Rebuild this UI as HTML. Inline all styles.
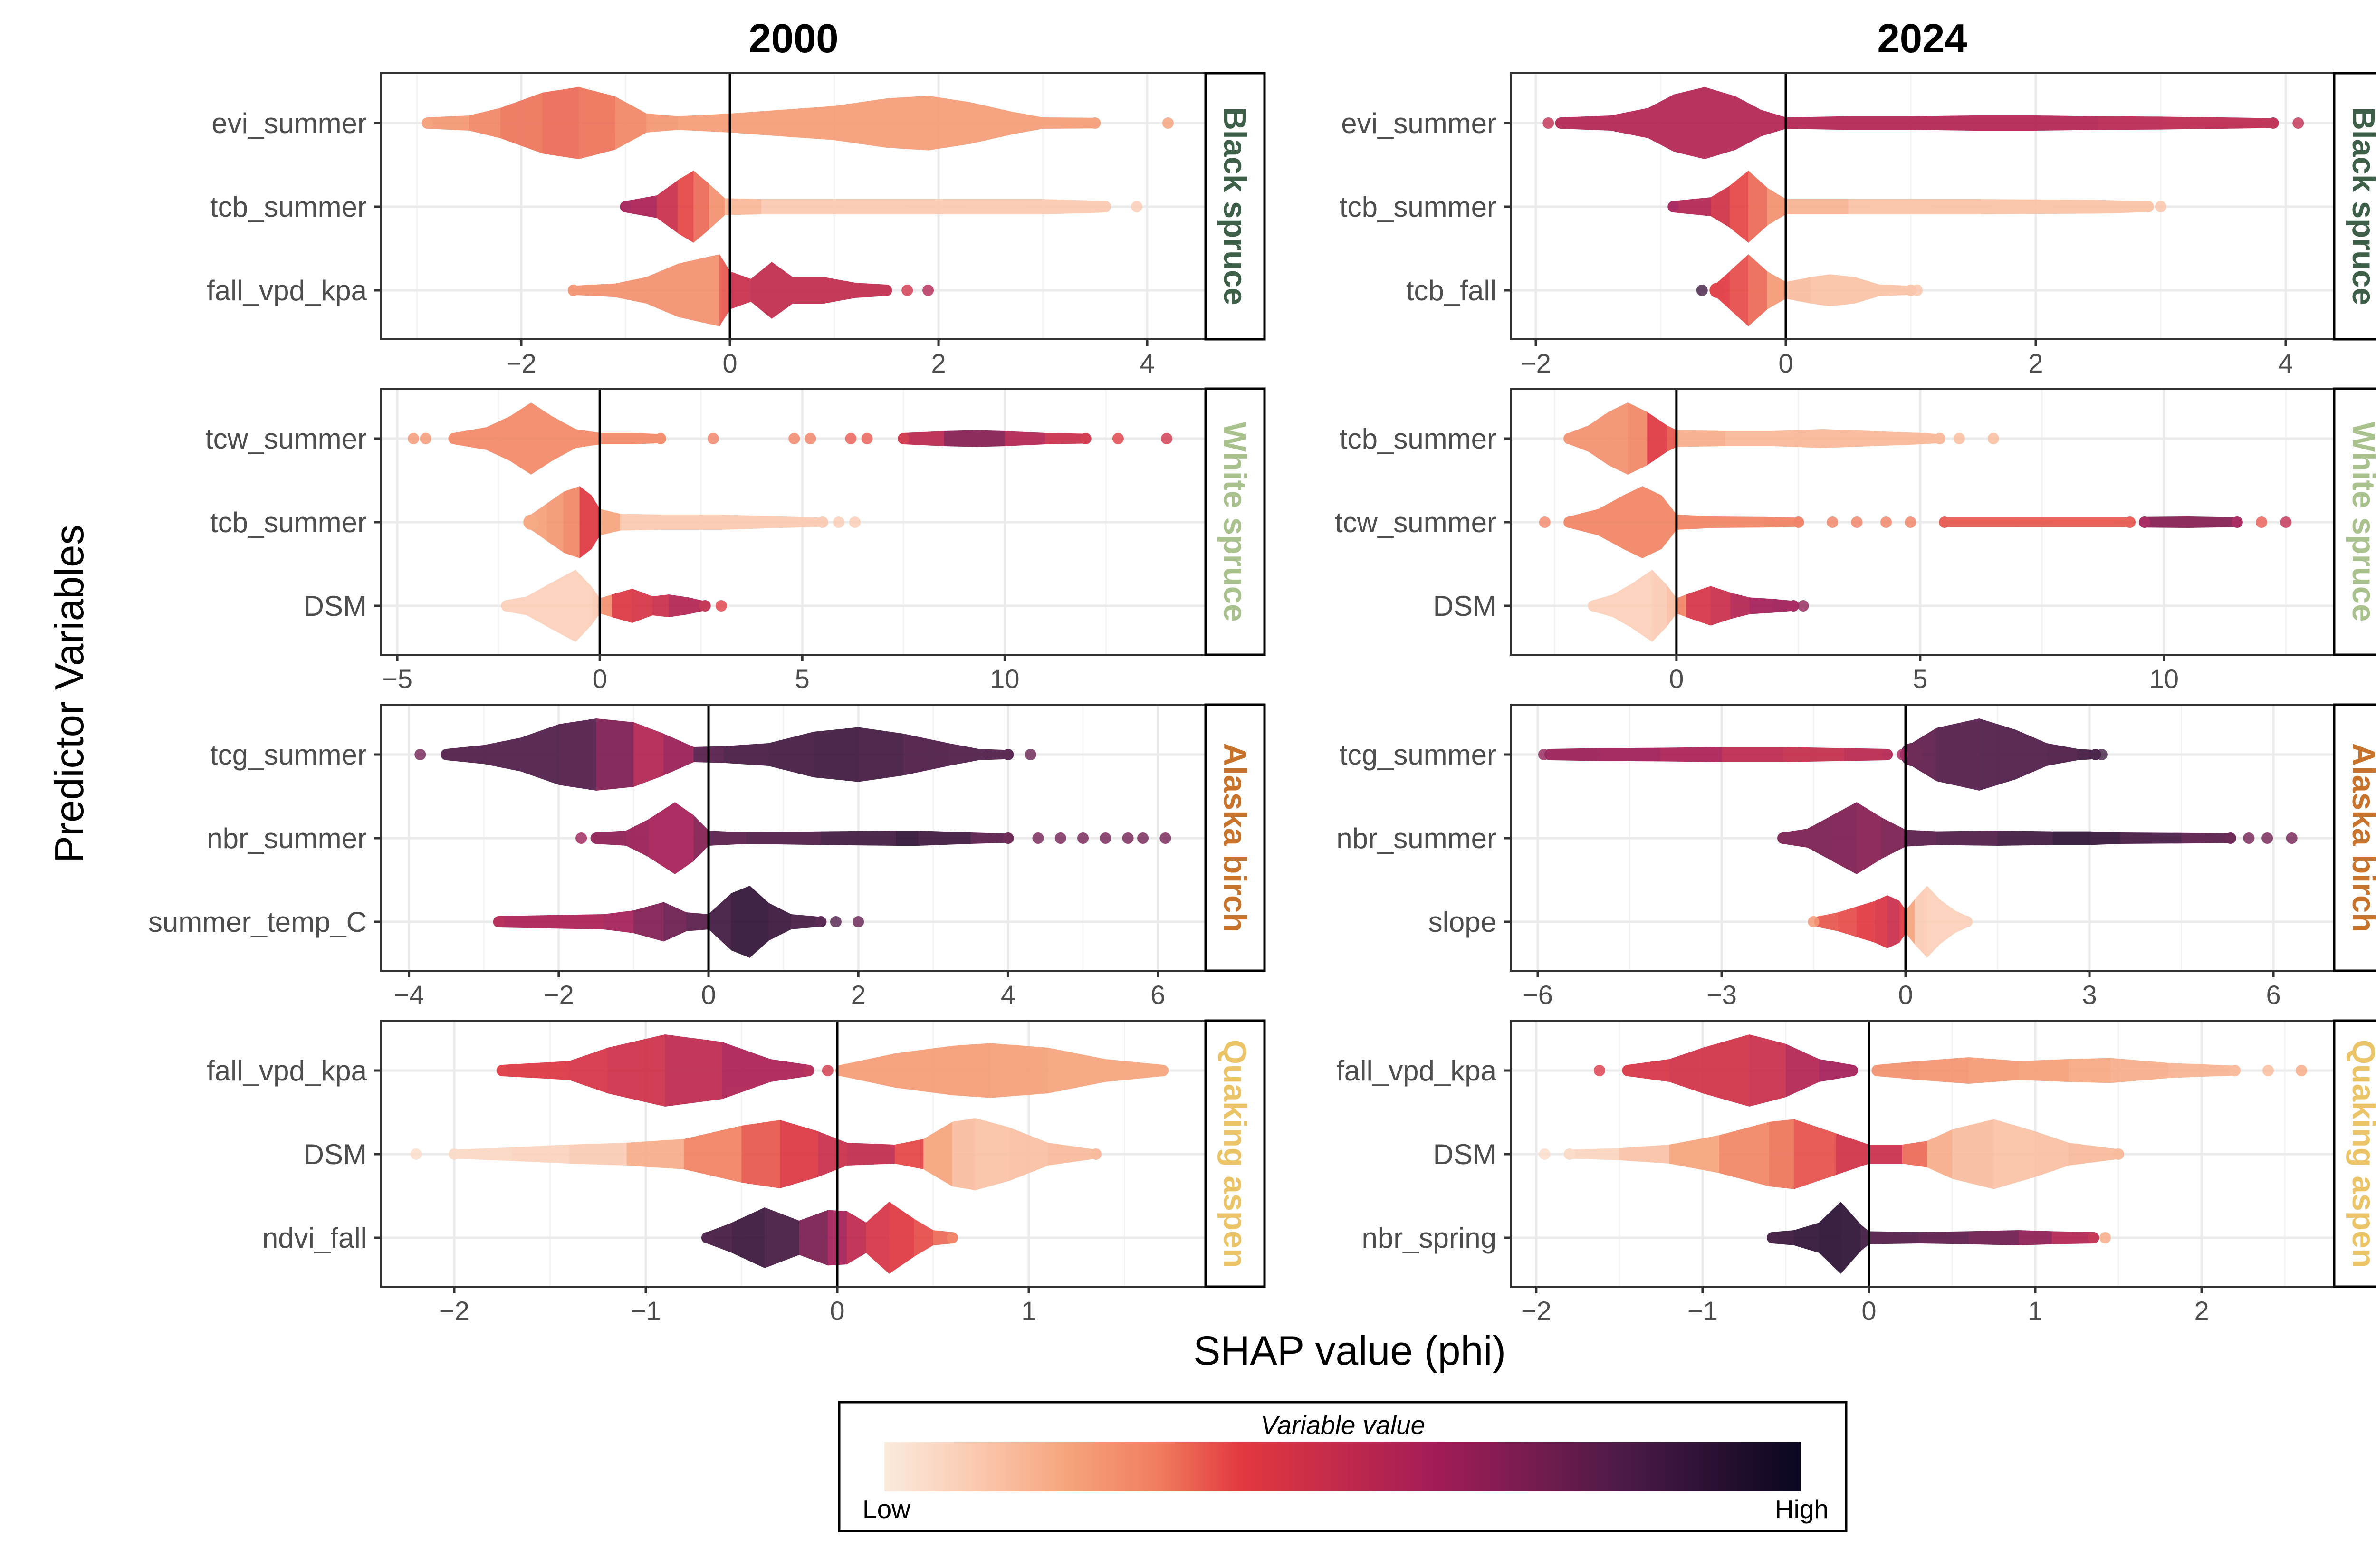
<!DOCTYPE html>
<html><head><meta charset="utf-8"><style>
html,body{margin:0;padding:0;background:#fff;}
svg{display:block;font-family:"Liberation Sans",Arial,sans-serif;}
</style></head><body>
<svg id="chart" xmlns="http://www.w3.org/2000/svg" width="5100" height="3300" viewBox="0 0 5100 3300">
<defs>
<linearGradient id="rocket" x1="0" x2="1" y1="0" y2="0">
<stop offset="0" stop-color="#faebdd"/><stop offset="0.1" stop-color="#fbc9b0"/><stop offset="0.2" stop-color="#f6a47c"/><stop offset="0.3" stop-color="#f07c5e"/><stop offset="0.39" stop-color="#e2383f"/><stop offset="0.6" stop-color="#a31c57"/><stop offset="0.8" stop-color="#4e1b48"/><stop offset="1" stop-color="#090620"/>
</linearGradient>
</defs>
<g id="panels"></g>
<text x="1670" y="110" font-size="85" font-weight="bold" text-anchor="middle">2000</text>
<text x="4045" y="110" font-size="85" font-weight="bold" text-anchor="middle">2024</text>
<text transform="translate(175,1460) rotate(-90)" font-size="85" text-anchor="middle">Predictor Variables</text>
<text x="2840" y="2872" font-size="86" text-anchor="middle">SHAP value (phi)</text>
<g>
<rect x="1766" y="2951" width="2119" height="271" fill="#fff" stroke="#000" stroke-width="5"/>
<text x="2826" y="3018" font-size="55" font-style="italic" text-anchor="middle">Variable value</text>
<rect x="1861" y="3035" width="1929" height="103" fill="url(#rocket)"/>
<text x="1815" y="3195" font-size="55">Low</text>
<text x="3848" y="3195" font-size="55" text-anchor="end">High</text>
</g>
</svg>
<script>
// ---- data: per-row density knots (SHAP x), relative half-height, colour value (0 low - 1 high)
const bs00r1X=[-2.9,-2.5,-2.2,-1.8,-1.45,-1.1,-0.8,-0.5,0,0.5,1.0,1.5,1.9,2.3,2.7,3.0,3.5];
const bs00r1H=[0.15,0.2,0.4,0.8,0.95,0.7,0.25,0.18,0.25,0.35,0.45,0.65,0.72,0.55,0.3,0.15,0.14];
const bs00r1C=[0.22,0.25,0.3,0.32,0.33,0.3,0.25,0.22,0.22,0.22,0.22,0.22,0.22,0.22,0.22,0.22,0.22];
const bs00r1DX=[4.2];const bs00r1DC=[0.22];
const bs00r2X=[-1.0,-0.7,-0.5,-0.35,-0.2,-0.05,0.3,1,2,3,3.6];
const bs00r2H=[0.15,0.3,0.7,0.95,0.6,0.22,0.2,0.2,0.2,0.2,0.15];
const bs00r2C=[0.6,0.55,0.4,0.35,0.3,0.2,0.1,0.1,0.1,0.1,0.1];
const bs00r2DX=[3.9];const bs00r2DC=[0.1];
const bs00r3X=[-1.5,-1.1,-0.8,-0.5,-0.1,0,0.2,0.4,0.6,0.9,1.2,1.5];
const bs00r3H=[0.12,0.18,0.35,0.7,0.95,0.5,0.3,0.75,0.35,0.35,0.2,0.15];
const bs00r3C=[0.25,0.25,0.25,0.25,0.25,0.45,0.5,0.5,0.5,0.5,0.5,0.5];
const bs00r3DX=[1.7,1.9];const bs00r3DC=[0.45,0.55];

const ws00r1X=[-3.6,-2.8,-2.2,-1.7,-1.2,-0.6,0,0.8,1.5,1.6,7.4,7.5,8.5,9.3,10,11,12];
const ws00r1H=[0.15,0.3,0.6,0.95,0.6,0.25,0.15,0.15,0.12,0,0,0.15,0.2,0.22,0.2,0.15,0.13];
const ws00r1C=[0.27,0.27,0.27,0.27,0.27,0.27,0.27,0.27,0.27,0.3,0.4,0.45,0.6,0.75,0.6,0.5,0.45];
const ws00r1DX=[-4.6,-4.3,2.8,4.8,5.2,6.2,6.6,12.8,14.0];const ws00r1DC=[0.25,0.25,0.3,0.3,0.3,0.35,0.35,0.4,0.45];
const ws00r2X=[-1.7,-1.3,-0.9,-0.5,-0.2,0,0.5,1.5,3,4.5,5.5];
const ws00r2H=[0.2,0.5,0.8,0.95,0.7,0.35,0.22,0.2,0.2,0.15,0.12];
const ws00r2C=[0.2,0.22,0.25,0.3,0.5,0.3,0.1,0.1,0.1,0.1,0.1];
const ws00r2DX=[5.9,6.3];const ws00r2DC=[0.1,0.1];
const ws00r3X=[-2.3,-1.8,-1.3,-0.6,-0.2,0,0.3,0.8,1.3,1.7,2.2,2.6];
const ws00r3H=[0.15,0.25,0.55,0.95,0.5,0.2,0.3,0.45,0.25,0.3,0.22,0.12];
const ws00r3C=[0.08,0.08,0.08,0.08,0.08,0.1,0.4,0.42,0.45,0.5,0.6,0.5];
const ws00r3DX=[3.0];const ws00r3DC=[0.4];

const ab00r1X=[-3.5,-3.0,-2.5,-2,-1.5,-1.0,-0.6,-0.2,0.2,0.8,1.4,2,2.6,3.2,3.6,4.0];
const ab00r1H=[0.15,0.25,0.45,0.8,0.95,0.85,0.55,0.2,0.22,0.3,0.6,0.72,0.55,0.3,0.15,0.12];
const ab00r1C=[0.8,0.8,0.8,0.8,0.78,0.6,0.5,0.75,0.82,0.82,0.85,0.85,0.82,0.8,0.8,0.8];
const ab00r1DX=[-3.85,4.3];const ab00r1DC=[0.72,0.75];
const ab00r2X=[-1.5,-1.1,-0.8,-0.45,-0.2,0,0.5,1.5,2.5,2.8,3.5,4.0];
const ab00r2H=[0.15,0.2,0.5,0.95,0.6,0.2,0.15,0.18,0.2,0.2,0.15,0.12];
const ab00r2C=[0.65,0.65,0.6,0.58,0.6,0.75,0.8,0.8,0.88,0.9,0.8,0.75];
const ab00r2DX=[-1.7,4.4,4.7,5.0,5.3,5.6,5.8,6.1];const ab00r2DC=[0.62,0.72,0.72,0.72,0.72,0.72,0.72,0.72];
const ab00r3X=[-2.8,-2.0,-1.4,-1.0,-0.6,-0.3,0,0.3,0.55,0.8,1.1,1.5];
const ab00r3H=[0.15,0.18,0.2,0.3,0.52,0.25,0.2,0.75,0.95,0.5,0.2,0.13];
const ab00r3C=[0.55,0.6,0.55,0.65,0.72,0.75,0.8,0.88,0.9,0.88,0.85,0.8];
const ab00r3DX=[1.7,2.0];const ab00r3DC=[0.8,0.75];

const qa00r1X=[-1.75,-1.4,-1.2,-0.9,-0.6,-0.35,-0.15,0.0,0.02,0.3,0.6,0.8,1.1,1.4,1.7];
const qa00r1H=[0.15,0.25,0.6,0.95,0.75,0.3,0.15,0,0.15,0.45,0.65,0.72,0.6,0.3,0.15];
const qa00r1C=[0.4,0.42,0.45,0.47,0.55,0.6,0.55,0.3,0.22,0.22,0.22,0.22,0.2,0.2,0.2];
const qa00r1DX=[-0.05];const qa00r1DC=[0.45];
const qa00r2X=[-2.0,-1.7,-1.4,-1.1,-0.8,-0.5,-0.3,-0.1,0.05,0.3,0.45,0.6,0.72,0.9,1.1,1.35];
const qa00r2H=[0.12,0.18,0.25,0.3,0.4,0.75,0.9,0.6,0.3,0.25,0.4,0.85,0.95,0.7,0.3,0.12];
const qa00r2C=[0.05,0.06,0.08,0.1,0.25,0.32,0.38,0.45,0.5,0.5,0.25,0.15,0.12,0.12,0.13,0.15];
const qa00r2DX=[-2.2];const qa00r2DC=[0.05];
const qa00r3X=[-0.68,-0.55,-0.38,-0.2,-0.05,0.05,0.15,0.27,0.4,0.5,0.6];
const qa00r3H=[0.15,0.4,0.8,0.45,0.73,0.7,0.4,0.95,0.5,0.2,0.15];
const qa00r3C=[0.82,0.85,0.88,0.78,0.62,0.58,0.45,0.42,0.38,0.35,0.3];
const qa00r3DX=[];const qa00r3DC=[];

const bs24r1X=[-1.8,-1.4,-1.1,-0.9,-0.65,-0.4,-0.2,0,0.5,1,1.5,2,2.5,3,3.5,3.9];
const bs24r1H=[0.15,0.2,0.4,0.75,0.95,0.7,0.35,0.15,0.18,0.18,0.2,0.2,0.18,0.17,0.15,0.13];
const bs24r1C=[0.55,0.55,0.55,0.55,0.55,0.55,0.55,0.55,0.55,0.55,0.55,0.55,0.55,0.52,0.52,0.52];
const bs24r1DX=[-1.9,4.1];const bs24r1DC=[0.5,0.5];
const bs24r2X=[-0.9,-0.6,-0.45,-0.3,-0.15,0,0.5,1.5,2.5,2.9];
const bs24r2H=[0.15,0.25,0.55,0.95,0.5,0.2,0.2,0.2,0.18,0.14];
const bs24r2C=[0.6,0.5,0.4,0.35,0.3,0.2,0.12,0.12,0.12,0.12];
const bs24r2DX=[3.0];const bs24r2DC=[0.12];
const bs24r3X=[-0.55,-0.45,-0.3,-0.15,0,0.2,0.35,0.55,0.75,1.0];
const bs24r3H=[0.2,0.5,0.95,0.5,0.22,0.35,0.42,0.35,0.15,0.12];
const bs24r3C=[0.4,0.38,0.35,0.3,0.15,0.12,0.12,0.12,0.12,0.12];
const bs24r3DX=[-0.67,1.05];const bs24r3DC=[0.85,0.12];

const ws24r1X=[-2.2,-1.8,-1.4,-1.0,-0.6,-0.2,0,1,2,3,4,5,5.4];
const ws24r1H=[0.15,0.35,0.7,0.95,0.7,0.35,0.22,0.2,0.2,0.25,0.2,0.15,0.12];
const ws24r1C=[0.25,0.25,0.25,0.25,0.3,0.5,0.2,0.15,0.15,0.15,0.15,0.15,0.15];
const ws24r1DX=[5.8,6.5];const ws24r1DC=[0.15,0.15];
const ws24r2X=[-2.2,-1.6,-1.1,-0.7,-0.3,0,0.8,1.8,2.5,2.6,5.4,5.5,7,9.3,9.4,9.6,10.5,11.5];
const ws24r2H=[0.15,0.35,0.7,0.95,0.7,0.2,0.15,0.14,0.12,0,0,0.13,0.13,0.13,0,0.14,0.15,0.13];
const ws24r2C=[0.28,0.28,0.28,0.28,0.28,0.28,0.28,0.28,0.3,0.35,0.35,0.35,0.35,0.35,0.6,0.6,0.75,0.6];
const ws24r2DX=[-2.7,3.2,3.7,4.3,4.8,12.0,12.5];const ws24r2DC=[0.28,0.3,0.3,0.3,0.3,0.35,0.5];
const ws24r3X=[-1.7,-1.3,-0.9,-0.5,-0.2,0,0.2,0.7,1.1,1.5,2.0,2.4];
const ws24r3H=[0.15,0.3,0.6,0.95,0.55,0.2,0.3,0.52,0.35,0.22,0.18,0.13];
const ws24r3C=[0.08,0.08,0.08,0.08,0.1,0.15,0.42,0.45,0.5,0.58,0.62,0.6];
const ws24r3DX=[2.6];const ws24r3DC=[0.65];

const ab24r1X=[-5.8,-5,-4,-3,-2,-1,-0.3,-0.1,0.1,0.5,1.2,1.8,2.3,2.8,3.1];
const ab24r1H=[0.15,0.17,0.18,0.2,0.2,0.17,0.15,0,0.3,0.7,0.95,0.65,0.3,0.15,0.12];
const ab24r1C=[0.62,0.62,0.6,0.55,0.48,0.5,0.55,0.6,0.75,0.78,0.8,0.8,0.8,0.82,0.85];
const ab24r1DX=[-5.9,-0.05,3.2];const ab24r1DC=[0.65,0.6,0.85];
const ab24r2X=[-2.0,-1.6,-1.2,-0.8,-0.4,0,0.5,1.5,2.4,3,3.5,4.5,5.3];
const ab24r2H=[0.15,0.25,0.6,0.95,0.55,0.22,0.18,0.2,0.18,0.18,0.15,0.14,0.13];
const ab24r2C=[0.7,0.7,0.7,0.68,0.65,0.75,0.8,0.8,0.88,0.92,0.85,0.8,0.75];
const ab24r2DX=[5.6,5.9,6.3];const ab24r2DC=[0.72,0.72,0.72];
const ab24r3X=[-1.4,-1.1,-0.8,-0.5,-0.3,-0.1,0,0.15,0.35,0.55,0.8,1.0];
const ab24r3H=[0.15,0.25,0.4,0.55,0.7,0.55,0.3,0.6,0.95,0.6,0.3,0.15];
const ab24r3C=[0.35,0.35,0.38,0.4,0.45,0.5,0.3,0.1,0.08,0.08,0.08,0.08];
const ab24r3DX=[-1.5];const ab24r3DC=[0.25];

const qa24r1X=[-1.45,-1.2,-1.0,-0.72,-0.5,-0.3,-0.1,0,0.05,0.3,0.6,0.9,1.2,1.45,1.8,2.2];
const qa24r1H=[0.15,0.3,0.6,0.95,0.7,0.3,0.15,0,0.15,0.25,0.35,0.25,0.3,0.33,0.2,0.13];
const qa24r1C=[0.42,0.45,0.45,0.45,0.5,0.6,0.6,0.3,0.25,0.25,0.23,0.22,0.2,0.18,0.17,0.15];
const qa24r1DX=[-1.62,2.4,2.6];const qa24r1DC=[0.42,0.15,0.2];
const qa24r2X=[-1.8,-1.5,-1.2,-0.9,-0.6,-0.45,-0.2,0,0.2,0.35,0.5,0.75,1.0,1.2,1.5];
const qa24r2H=[0.12,0.16,0.25,0.5,0.85,0.92,0.55,0.25,0.25,0.35,0.65,0.92,0.6,0.3,0.13];
const qa24r2C=[0.05,0.08,0.15,0.25,0.3,0.32,0.4,0.5,0.45,0.2,0.15,0.12,0.12,0.13,0.15];
const qa24r2DX=[-1.95];const qa24r2DC=[0.05];
const qa24r3X=[-0.58,-0.45,-0.3,-0.17,-0.05,0,0.3,0.6,0.9,1.1,1.35];
const qa24r3H=[0.15,0.2,0.4,0.95,0.35,0.17,0.15,0.17,0.2,0.17,0.15];
const qa24r3C=[0.85,0.88,0.9,0.92,0.88,0.8,0.78,0.75,0.7,0.6,0.5];
const qa24r3DX=[1.42];const qa24r3DC=[0.2];

// axis domains and ticks
const bs00Domain=[-3.344,4.56];const bs00Ticks=[-2,0,2,4];
const ws00Domain=[-5.40,14.96];const ws00Ticks=[-5,0,5,10];
const ab00Domain=[-4.372,6.637];const ab00Ticks=[-4,-2,0,2,4,6];
const qa00Domain=[-2.382,1.923];const qa00Ticks=[-2,-1,0,1];
const bs24Domain=[-2.2015,4.388];const bs24Ticks=[-2,0,2,4];
const ws24Domain=[-3.40,13.49];const ws24Ticks=[0,5,10];
const ab24Domain=[-6.442,6.992];const ab24Ticks=[-6,-3,0,3,6];
const qa24Domain=[-2.154,2.797];const qa24Ticks=[-2,-1,0,1,2];

const bs00Vars=["evi_summer","tcb_summer","fall_vpd_kpa"];
const ws00Vars=["tcw_summer","tcb_summer","DSM"];
const ab00Vars=["tcg_summer","nbr_summer","summer_temp_C"];
const qa00Vars=["fall_vpd_kpa","DSM","ndvi_fall"];
const bs24Vars=["evi_summer","tcb_summer","tcb_fall"];
const ws24Vars=["tcb_summer","tcw_summer","DSM"];
const ab24Vars=["tcg_summer","nbr_summer","slope"];
const qa24Vars=["fall_vpd_kpa","DSM","nbr_spring"];

const speciesNames=["Black spruce","White spruce","Alaska birch","Quaking aspen"];
const speciesColors=["#3d5f47","#a8c18d","#c8732c","#eac466"];

const NS="http://www.w3.org/2000/svg";
const stops=[[0,[250,235,221]],[0.1,[251,201,176]],[0.2,[246,164,124]],[0.3,[240,124,94]],[0.39,[226,56,63]],[0.6,[163,28,87]],[0.8,[78,27,72]],[1,[9,6,32]]];
function col(v){v=Math.max(0,Math.min(1,v));for(let i=0;i<stops.length-1;i++){const a=stops[i],b=stops[i+1];if(v<=b[0]){const t=(v-a[0])/(b[0]-a[0]);const c=a[1].map((x,k)=>Math.round(x+(b[1][k]-x)*t));return `rgb(${c[0]},${c[1]},${c[2]})`;}}return 'rgb(9,6,32)';}
function mk(tag,attrs,parent){const e=document.createElementNS(NS,tag);for(const k in attrs)e.setAttribute(k,attrs[k]);parent.appendChild(e);return e;}

const root=document.getElementById('panels');
const cols=[{left:802,right:2537,strip:2661,labelEnd:772},{left:3179,right:4912,strip:5036,labelEnd:3149}];
const tops=[154,818,1483,2148];const PH=560;const rowOff=[105,281,457];const HS=80;

const panels=[
 [bs00Domain,bs00Ticks,bs00Vars,[[bs00r1X,bs00r1H,bs00r1C,bs00r1DX,bs00r1DC],[bs00r2X,bs00r2H,bs00r2C,bs00r2DX,bs00r2DC],[bs00r3X,bs00r3H,bs00r3C,bs00r3DX,bs00r3DC]],0,0],
 [ws00Domain,ws00Ticks,ws00Vars,[[ws00r1X,ws00r1H,ws00r1C,ws00r1DX,ws00r1DC],[ws00r2X,ws00r2H,ws00r2C,ws00r2DX,ws00r2DC],[ws00r3X,ws00r3H,ws00r3C,ws00r3DX,ws00r3DC]],0,1],
 [ab00Domain,ab00Ticks,ab00Vars,[[ab00r1X,ab00r1H,ab00r1C,ab00r1DX,ab00r1DC],[ab00r2X,ab00r2H,ab00r2C,ab00r2DX,ab00r2DC],[ab00r3X,ab00r3H,ab00r3C,ab00r3DX,ab00r3DC]],0,2],
 [qa00Domain,qa00Ticks,qa00Vars,[[qa00r1X,qa00r1H,qa00r1C,qa00r1DX,qa00r1DC],[qa00r2X,qa00r2H,qa00r2C,qa00r2DX,qa00r2DC],[qa00r3X,qa00r3H,qa00r3C,qa00r3DX,qa00r3DC]],0,3],
 [bs24Domain,bs24Ticks,bs24Vars,[[bs24r1X,bs24r1H,bs24r1C,bs24r1DX,bs24r1DC],[bs24r2X,bs24r2H,bs24r2C,bs24r2DX,bs24r2DC],[bs24r3X,bs24r3H,bs24r3C,bs24r3DX,bs24r3DC]],1,0],
 [ws24Domain,ws24Ticks,ws24Vars,[[ws24r1X,ws24r1H,ws24r1C,ws24r1DX,ws24r1DC],[ws24r2X,ws24r2H,ws24r2C,ws24r2DX,ws24r2DC],[ws24r3X,ws24r3H,ws24r3C,ws24r3DX,ws24r3DC]],1,1],
 [ab24Domain,ab24Ticks,ab24Vars,[[ab24r1X,ab24r1H,ab24r1C,ab24r1DX,ab24r1DC],[ab24r2X,ab24r2H,ab24r2C,ab24r2DX,ab24r2DC],[ab24r3X,ab24r3H,ab24r3C,ab24r3DX,ab24r3DC]],1,2],
 [qa24Domain,qa24Ticks,qa24Vars,[[qa24r1X,qa24r1H,qa24r1C,qa24r1DX,qa24r1DC],[qa24r2X,qa24r2H,qa24r2C,qa24r2DX,qa24r2DC],[qa24r3X,qa24r3H,qa24r3C,qa24r3DX,qa24r3DC]],1,3]
];

panels.forEach((p,pi)=>{
 const [dom,ticks,vars,rows,ci,ri]=p;const c=cols[ci];const top=tops[ri];
 const sx=v=>c.left+(v-dom[0])/(dom[1]-dom[0])*(c.right-c.left);
 const g=mk('g',{},root);
 
 
 const bg=mk('rect',{x:c.left,y:top,width:c.right-c.left,height:PH,fill:'#fff'},g);
 
 
 const step=ticks[1]-ticks[0];
 for(let t=ticks[0]-step;t<=dom[1]+step;t+=step/2){
  if(t<dom[0]||t>dom[1])continue;
  const isMajor=Math.abs(((t-ticks[0])/step)-Math.round((t-ticks[0])/step))<1e-6;
  const gl=mk('line',{x1:sx(t),x2:sx(t),y1:top,y2:top+PH,stroke:isMajor?'#ebebeb':'#f4f4f4','stroke-width':isMajor?5:3},g);
  
  
 }
 rowOff.forEach(o=>{const hl=mk('line',{x1:c.left,x2:c.right,y1:top+o,y2:top+o,stroke:'#ebebeb','stroke-width':5},g);
  
  });
 rows.forEach((r,k)=>{
  const [X,H,C,DX,DC]=r;const y=top+rowOff[k];
  const sg=mk('g',{opacity:0.92},g);
  
  
  for(let i=0;i<X.length-1;i++){
   if(H[i]<=0||H[i+1]<=0)continue;
   const x1=sx(X[i]),x2=sx(X[i+1]),h1=H[i]*HS,h2=H[i+1]*HS;
   const pg=mk('polygon',{points:`${x1},${y-h1} ${x2+0.5},${y-h2} ${x2+0.5},${y+h2} ${x1},${y+h1}`,fill:col((C[i]+C[i+1])/2)},sg);
   
   
  }
  for(let i=0;i<X.length;i++){
   const prev=i>0?H[i-1]:0,next=i<X.length-1?H[i+1]:0;
   if(H[i]>0&&(prev<=0||next<=0)){
    const e=mk('circle',{cx:sx(X[i]),cy:y,r:Math.max(H[i]*HS,12),fill:col(C[i])},sg);
    
    
   }
  }
  DX.forEach((d,j)=>{const pt=mk('circle',{cx:sx(d),cy:y,r:12,fill:col(DC[j]),opacity:0.85},sg);
   
   });
 });
 const zl=mk('line',{x1:sx(0),x2:sx(0),y1:top,y2:top+PH,stroke:'#000','stroke-width':5},g);
 
 
 const bd=mk('rect',{x:c.left,y:top,width:c.right-c.left,height:PH,fill:'none',stroke:'#333','stroke-width':4},g);
 
 
 ticks.forEach(t=>{
  const tl=mk('line',{x1:sx(t),x2:sx(t),y1:top+PH,y2:top+PH+14,stroke:'#333','stroke-width':5},g);
  
  
  const tx=mk('text',{x:sx(t),y:top+PH+70,'font-size':56,fill:'#4d4d4d','text-anchor':'middle'},g);
  tx.textContent=(t<0?'\u2212'+Math.abs(t):String(t));
  
  
 });
 vars.forEach((v,k)=>{
  const y=top+rowOff[k];
  const yt=mk('line',{x1:c.left-14,x2:c.left,y1:y,y2:y,stroke:'#333','stroke-width':5},g);
  
  
  const lb=mk('text',{x:c.labelEnd,y:y+21,'font-size':60,fill:'#4d4d4d','text-anchor':'end'},g);
  lb.textContent=v;
  
  
 });
 const st=mk('rect',{x:c.right,y:top,width:c.strip-c.right,height:PH,fill:'#fff',stroke:'#000','stroke-width':5},g);
 
 
 const sxm=(c.right+c.strip)/2,sym=top+PH/2;
 const stx=mk('text',{transform:`translate(${sxm-23},${sym}) rotate(90)`,'font-size':67,'font-weight':'bold',fill:speciesColors[ri],'text-anchor':'middle'},g);
 stx.textContent=speciesNames[ri];
 
 
});
</script>
</body></html>
